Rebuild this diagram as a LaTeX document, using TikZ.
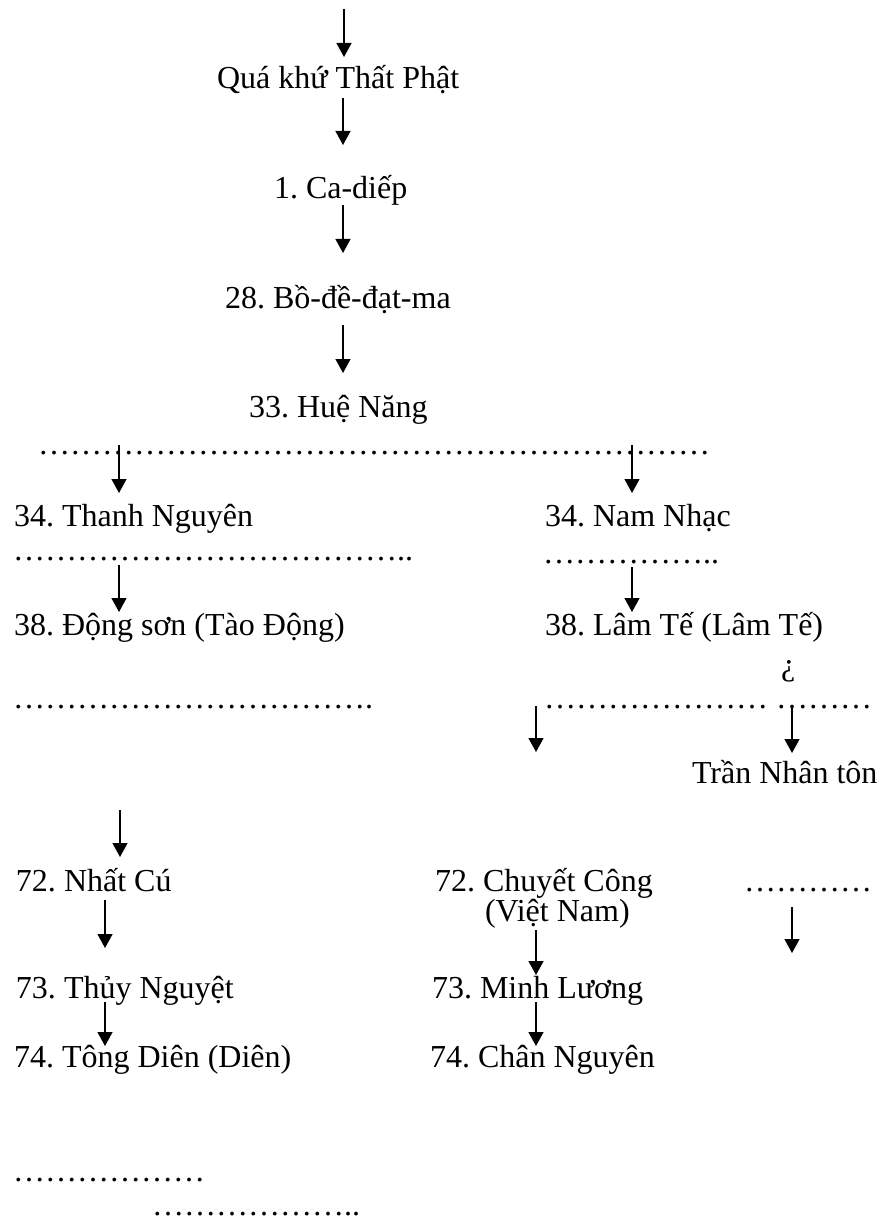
\documentclass[tikz,border=0pt]{standalone}
\usepackage{fontspec}
\setmainfont{Liberation Serif}
\usetikzlibrary{arrows.meta}
\newcommand{\txtfs}{\fontsize{16}{19}\selectfont\frenchspacing}
\newcount\ellcnt
\newcommand{\ellrep}[1]{\ellcnt=0 \loop\ifnum\ellcnt<#1 …\advance\ellcnt by 1 \repeat}
\tikzset{
  lbl/.style={anchor=base west, inner sep=0pt, outer sep=0pt, font=\txtfs},
  dotrow/.style={anchor=base west, inner sep=0pt, outer sep=0pt, font=\txtfs, text depth=0pt},
  arr/.style={line width=0.7pt, -{Triangle[width=7.5pt,length=7pt]}}
}
\begin{document}
\begin{tikzpicture}[x=0.5pt,y=-0.5pt]
\useasboundingbox (0,0) rectangle (879,1219);
% text nodes
\node[lbl] (qk) at (217,89) {Quá khứ Thất Phật};
\node[lbl] (cd) at (274,199) {1. Ca-diếp};
\node[lbl] (bd) at (225,308) {28. Bồ-đề-đạt-ma};
\node[lbl] (hn) at (249,417) {33. Huệ Năng};
\node[lbl] (tn) at (14,526) {34. Thanh Nguyên};
\node[lbl] (nn) at (545,526) {34. Nam Nhạc};
\node[lbl] (ds) at (14,635) {38. Động sơn (Tào Động)};
\node[lbl] (lt) at (545,635) {38. Lâm Tế (Lâm Tế)};
\node[lbl] (qm) at (781,675) {¿};
\node[lbl] (tnt) at (692,783) {Trần Nhân tôn};
\node[lbl] (nc) at (16,891) {72. Nhất Cú};
\node[lbl] (cc) at (435,891) {72. Chuyết Công};
\node[lbl] (vn) at (485,921) {(Việt Nam)};
\node[lbl] (thn) at (16,998) {73. Thủy Nguyệt};
\node[lbl] (ml) at (432,998) {73. Minh Lương};
\node[lbl] (td) at (14,1067) {74. Tông Diên (Diên)};
\node[lbl] (cn) at (430,1067) {74. Chân Nguyên};
% dotted rows (ellipsis text)
\node[dotrow] (dA) at (38,454) {\ellrep{21}};
\node[dotrow] (dB) at (13,560) {\ellrep{12}..};
\node[dotrow] (dC) at (543,563) {\ellrep{5}..};
\node[dotrow] (dD) at (13,708) {\ellrep{11}.};
\node[dotrow] (dE) at (544,708) {\ellrep{7}\ \ellrep{3}};
\node[dotrow] (dF) at (744,891) {\ellrep{4}};
\node[dotrow] (dG) at (13,1181) {\ellrep{6}};
\node[dotrow] (dH) at (152,1215) {\ellrep{6}..};
% arrow end points
\coordinate (a1s) at (344,9);    \coordinate (a1e) at (344,57);
\coordinate (a2s) at (343,98);   \coordinate (a2e) at (343,145);
\coordinate (a3s) at (343,205);  \coordinate (a3e) at (343,253);
\coordinate (a4s) at (343,325);  \coordinate (a4e) at (343,373);
\coordinate (a5s) at (119,445);  \coordinate (a5e) at (119,493);
\coordinate (a6s) at (632,445);  \coordinate (a6e) at (632,493);
\coordinate (a7s) at (119,565);  \coordinate (a7e) at (119,612);
\coordinate (a8s) at (632,567);  \coordinate (a8e) at (632,612);
\coordinate (a9s) at (536,706);  \coordinate (a9e) at (536,752);
\coordinate (a10s) at (792,705); \coordinate (a10e) at (792,753);
\coordinate (a11s) at (120,810); \coordinate (a11e) at (120,857);
\coordinate (a12s) at (105,900); \coordinate (a12e) at (105,948);
\coordinate (a13s) at (792,907); \coordinate (a13e) at (792,953);
\coordinate (a14s) at (536,930); \coordinate (a14e) at (536,975);
\coordinate (a15s) at (105,1002); \coordinate (a15e) at (105,1046);
\coordinate (a16s) at (536,1002); \coordinate (a16e) at (536,1046);
\foreach \i in {1,...,16} {\draw[arr] (a\i s) -- (a\i e);}
\end{tikzpicture}
\end{document}
